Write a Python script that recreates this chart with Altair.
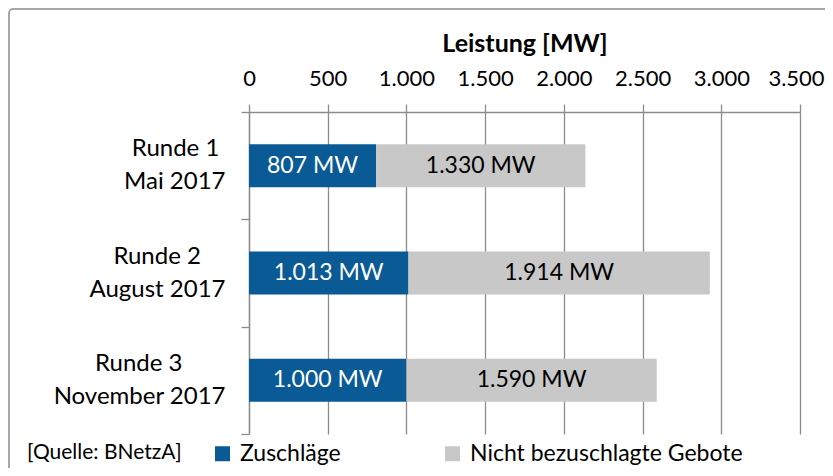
import altair as alt
import pandas as pd

runden = ["Runde 1", "Runde 2", "Runde 3"]
termine = ["Mai 2017", "August 2017", "November 2017"]
zuschlaege = [807, 1013, 1000]
nicht_bezuschlagt = [1330, 1914, 1590]
serien = ["Zuschläge", "Nicht bezuschlagte Gebote"]
farben = ["#0A5A96", "#C8C8C8"]
x_ticks = [0, 500, 1000, 1500, 2000, 2500, 3000, 3500]
quelle = "[Quelle: BNetzA]"
achsentitel = "Leistung [MW]"

FONT = "Lato"
NB = "\u00a0"
ZW = "\u200b"
# trailing no-break spaces (kept by a zero-width char) centre the first line over the second
einrueck = [1, 4, 7]

def de(v):
    return f"{v:,}".replace(",", ".")

def kat_label(i):
    return runden[i] + NB * einrueck[i] + ZW + "|" + termine[i]

rows = []
for i in range(len(runden)):
    kat = kat_label(i)
    start = 0
    for s, v in zip(serien, [zuschlaege[i], nicht_bezuschlagt[i]]):
        rows.append({"kat": kat, "serie": s, "wert": v, "start": start,
                     "ende": start + v, "mitte": start + v / 2,
                     "label": de(v) + " MW"})
        start += v
df = pd.DataFrame(rows)
kat_order = [kat_label(i) for i in range(len(runden))]

grey = "#8C8C8C"
xscale = alt.Scale(domain=[0, 3500], nice=False, zero=True)
yscale = alt.Scale(domain=kat_order, paddingInner=0, paddingOuter=0)

base = alt.Chart(df)

bars = base.mark_bar(size=43).encode(
    x=alt.X("start:Q", scale=xscale,
            axis=alt.Axis(orient="top", values=x_ticks, title=achsentitel,
                          labelExpr="replace(format(datum.value, ','), ',', '.')",
                          labelOverlap=False, labelFlush=False,
                          labelOffset=alt.condition("datum.value == 3500", alt.value(-4), alt.value(0)),
                          grid=True, gridColor=grey, gridWidth=1.3,
                          domainColor=grey, domainWidth=1.5, tickColor=grey, tickWidth=1.3,
                          tickSize=8, labelPadding=14, labelFontSize=22, labelFont=FONT,
                          labelColor="#000", titleFont=FONT, titleFontSize=25,
                          titleFontWeight="bold", titleColor="#000", titlePadding=11)),
    x2="ende:Q",
    y=alt.Y("kat:N", scale=yscale, sort=kat_order,
            axis=alt.Axis(title=None, labelExpr="split(datum.label, '|')",
                          labelFont=FONT, labelFontSize=24, labelColor="#000",
                          labelLineHeight=33, labelPadding=16, tickSize=8,
                          labelOffset=-17, labelLimit=400,
                          tickBand="extent", grid=False, domainColor=grey,
                          domainWidth=1.3, tickColor=grey, tickWidth=1.3,
                          labelAlign="right", labelBaseline="middle")),
    color=alt.Color("serie:N", scale=alt.Scale(domain=serien, range=farben),
                    sort=serien,
                    legend=alt.Legend(title=None, orient="none", legendX=-38, legendY=330,
                                      direction="horizontal", columns=2,
                                      symbolType="square", symbolSize=225,
                                      symbolStrokeWidth=0, labelFont=FONT,
                                      labelFontSize=23, labelColor="#000",
                                      labelLimit=500,
                                      labelOffset=6, columnPadding=100)),
    order=alt.Order("start:Q"),
)

txt_w = base.mark_text(font=FONT, fontSize=23, color="white").encode(
    x="mitte:Q", y=alt.Y("kat:N", sort=kat_order), text="label:N"
).transform_filter(alt.datum.serie == serien[0])

txt_b = base.mark_text(font=FONT, fontSize=23, color="black").encode(
    x="mitte:Q", y=alt.Y("kat:N", sort=kat_order), text="label:N"
).transform_filter(alt.datum.serie == serien[1])

src = alt.Chart(pd.DataFrame({"t": [quelle]})).mark_text(
    font=FONT, fontSize=21, align="left", baseline="middle", color="#000"
).encode(x=alt.value(-222), y=alt.value(341), text="t:N")

border = alt.Chart(pd.DataFrame({"a": [0]})).mark_rect(
    fill=None, stroke="#8C8C8C", strokeWidth=1.5, cornerRadius=4
).encode(x=alt.value(-240), x2=alt.value(600), y=alt.value(-103), y2=alt.value(400))

chart = alt.layer(border, bars, txt_w, txt_b, src).properties(
    width=551, height=322,
    padding={"left": 241, "top": 104, "right": 25, "bottom": 34},
    autosize=alt.AutoSizeParams(type="none"),
).configure_view(stroke=None)

chart.save("out.html", embed_options={"renderer": "svg", "actions": False})
